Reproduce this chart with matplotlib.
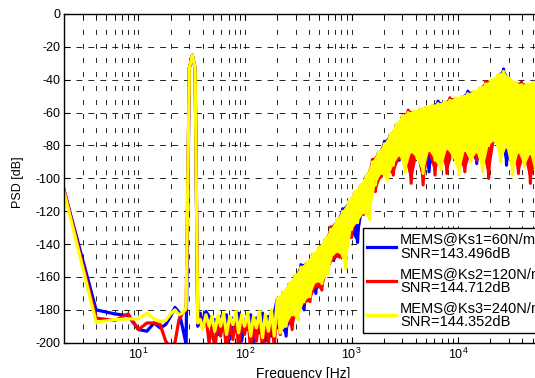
"""
PSD of the MEMS sigma-delta output for three spring constants.
"""
import matplotlib
matplotlib.use('Agg')
import numpy as np
from matplotlib import pyplot as plt
from matplotlib.ticker import LogLocator, NullFormatter, MultipleLocator

plt.rcParams['font.family'] = ['Liberation Sans', 'DejaVu Sans']
plt.rcParams['mathtext.default'] = 'regular'
plt.rcParams['axes.unicode_minus'] = False
plt.rcParams['lines.scale_dashes'] = False

# bins up to the 32 Hz test tone [Hz]
freq_lo = [2, 4, 6, 8, 10, 12, 14, 16, 18, 20, 22, 24, 26, 28, 30, 32, 34, 36]
blue_lo = [-107, -180, -182.5, -183.5, -192, -193, -188, -191, -189, -184,
           -178.5, -181.5, -191, -201, -33, -25, -33, -190]
red_lo = [-107, -185, -186.5, -182.5, -192, -188, -188, -189, -199, -203,
          -200, -186, -182, -180, -33, -25.5, -33, -187]
yellow_lo = [-108, -187.5, -186, -185.5, -185.5, -182, -185.5, -187, -186.5, -182.5,
             -180, -183, -182, -179, -33, -25, -33, -188]

# rest of the band [Hz]
freq_hi = [38, 40, 43, 46, 49, 52, 56, 59, 63, 67,
           72, 77, 82, 87, 93, 99, 106, 113, 120, 128,
           137, 146, 155, 166, 177, 188, 201, 214, 228, 243,
           259, 277, 295, 315, 335, 358, 381, 407, 434, 462,
           493, 526, 561, 598, 638, 680, 726, 774, 825, 880,
           939, 1000, 1067, 1138, 1213, 1294, 1380, 1472, 1570, 1674,
           1786, 1905, 2031, 2166, 2310, 2464, 2628, 2803, 2990, 3189,
           3401, 3627, 3868, 4126, 4400, 4693, 5005, 5338, 5693, 6072,
           6476, 6907, 7366, 7856, 8379, 8936, 9531, 10165, 10841, 11562,
           12331, 13152, 14026, 14959, 15954, 17015, 18147, 19354, 20641, 22014,
           23478, 25040, 26705, 28481, 30376, 32396, 34551, 36849, 39300, 41914,
           44702, 47675, 50846, 54228, 57835, 61682, 64000]

blue_hi = [-182, -188, -181, -184, -192, -186, -195, -184, -191, -183,
           -198, -185, -193, -182, -199, -186, -192, -183, -201, -185,
           -194, -182, -199, -184, -196, -182,
           -173.5, -190, -169.5, -196, -164.5, -180, -159.5, -178, -152.5, -180,
           -151.5, -168, -146.5, -170, -142.5, -160, -137.5, -152, -131.5, -150,
           -125.5, -141, -118.5, -138, -114.5, -133, -108.5, -139, -104.5, -117,
           -98.5, -108, -90.5, -106, -84.5, -96, -77.5, -93, -73.5, -91,
           -67.5, -89, -62.5, -86, -60.5, -95, -59.5, -84, -58, -86,
           -57, -96, -56, -84, -53, -85, -54, -93, -53, -84,
           -51.5, -86, -50.5, -92, -47, -84, -47.5, -91, -45.5, -83,
           -43, -79, -40.5, -76, -37.5, -77, -33.5, -92, -39.5, -82,
           -42, -95, -43.5, -86, -43, -90, -42, -87, -41, -97,
           -41]

red_hi = [-185, -191, -184, -200, -190, -204, -186, -196, -185, -206,
          -188, -198, -184, -203, -186, -195, -183, -205, -187, -199,
          -182, -204, -185, -200, -181, -203,
          -173.5, -195, -169.5, -186, -164.5, -192, -159.5, -179, -154.5, -176,
          -151.5, -175, -146.5, -166, -142.5, -168, -137.5, -156, -129.5, -149,
          -125.5, -148, -120.5, -139, -114.5, -136, -108.5, -125, -104.5, -122,
          -98.5, -111, -88.5, -108, -84.5, -99, -79.5, -95, -73.5, -98,
          -67.5, -88, -62.5, -88, -58.5, -103, -59.5, -86, -58, -104,
          -57, -85, -56, -98, -55, -84, -54, -97, -51, -85,
          -51.5, -88, -50.5, -96, -49, -85, -47.5, -89, -45.5, -84,
          -41, -100, -40.5, -77, -37.5, -78, -35.5, -80, -39.5, -84,
          -42, -97, -41.5, -86, -43, -103, -42, -88, -41, -106,
          -41]

yellow_hi = [-186, -192, -183, -190, -184, -193, -183, -190, -182, -195,
             -184, -189, -181, -194, -183, -190, -182, -196, -184, -191,
             -181, -197, -183, -193, -180, -196,
             -173, -194, -169, -190, -164, -183, -159, -186, -154, -175,
             -151, -172, -146, -163, -142, -164, -137, -158, -131, -146,
             -125, -145, -120, -155, -114, -131, -108, -127, -104, -121,
             -98, -125, -90, -104, -84, -97, -79, -101, -73, -92,
             -67, -86, -62, -96, -60, -84, -59, -88, -57.5, -97,
             -56.5, -83, -55.5, -89, -54.5, -95, -53.5, -82, -52.5, -87,
             -51, -98, -50, -83, -48.5, -90, -47, -84, -45, -96,
             -42.5, -80, -40, -77, -37, -90, -35, -81, -39, -98,
             -41.5, -84, -43, -93, -42.5, -85, -41.5, -100, -40.5, -87,
             -40.5]

labels = ['MEMS@Ks1=60N/m\nSNR=143.496dB',
          'MEMS@Ks2=120N/m\nSNR=144.712dB',
          'MEMS@Ks3=240N/m\nSNR=144.352dB']
colors = [(0, 0, 1), (1, 0, 0), (1, 1, 0)]

freq = freq_lo + freq_hi
series = [blue_lo + blue_hi, red_lo + red_hi, yellow_lo + yellow_hi]

fig = plt.figure(figsize=(5.35, 3.78), dpi=100)
ax = fig.add_axes([64 / 535, 35.3 / 378, 480 / 535, 328.7 / 378])
ax.set_axisbelow(True)

# above ~200 Hz the spectrum is so dense it reads as a solid band:
# fill between the peak samples and the trough samples of each trace
i0 = freq.index(201)
handles = []
for psd, c in zip(series, colors):
    f_top, p_top = freq[i0::2], psd[i0::2]
    f_bot, p_bot = freq[i0 + 1::2], psd[i0 + 1::2]
    ax.fill(f_top + f_bot[::-1], p_top + p_bot[::-1], color=c, lw=0, zorder=2)
    h, = ax.semilogx(freq, psd, color=c, lw=2.3, zorder=2)
    handles.append(h)

ax.set_xlim(2, 64000)
ax.set_ylim(-200, 0)
ax.yaxis.set_major_locator(MultipleLocator(20))
ax.xaxis.set_major_locator(LogLocator(base=10))
ax.xaxis.set_minor_locator(LogLocator(base=10, subs=np.arange(2, 10)))
ax.xaxis.set_minor_formatter(NullFormatter())
ax.tick_params(which='both', direction='in', top=True, right=True, labelsize=9, pad=2.8)
ax.tick_params(which='major', length=4)
ax.tick_params(which='minor', length=3)

# matlab style dotted grid
ax.grid(True, which='major', axis='y', color='k', lw=0.6, linestyle=(0, (4.3, 4.3)))
ax.grid(True, which='both', axis='x', color='k', lw=0.6, linestyle=(0, (3.6, 6.5)))
for sp in ax.spines.values():
    sp.set_linewidth(1.0)
    sp.set_zorder(3)

leg = ax.legend(handles, labels, loc='upper left',
                bbox_to_anchor=(363 / 535, 1 - 228 / 378), bbox_transform=fig.transFigure,
                borderaxespad=0, fancybox=False, edgecolor='k', framealpha=1,
                fontsize=10.5, handlelength=1.95, handletextpad=0.28,
                labelspacing=0.4, borderpad=0.3)
leg.get_frame().set_linewidth(1.0)
leg.set_zorder(5)
for t in leg.get_texts():
    t.set_linespacing(1.03)

fig.text(303 / 535, 0.0, 'Frequency [Hz]', ha='center', va='baseline', fontsize=10)
fig.text(17.5 / 535, 1 - 181.7 / 378, 'PSD [dB]', rotation=90, ha='center', va='center', fontsize=9)

fig.savefig('out.png', dpi=100)
